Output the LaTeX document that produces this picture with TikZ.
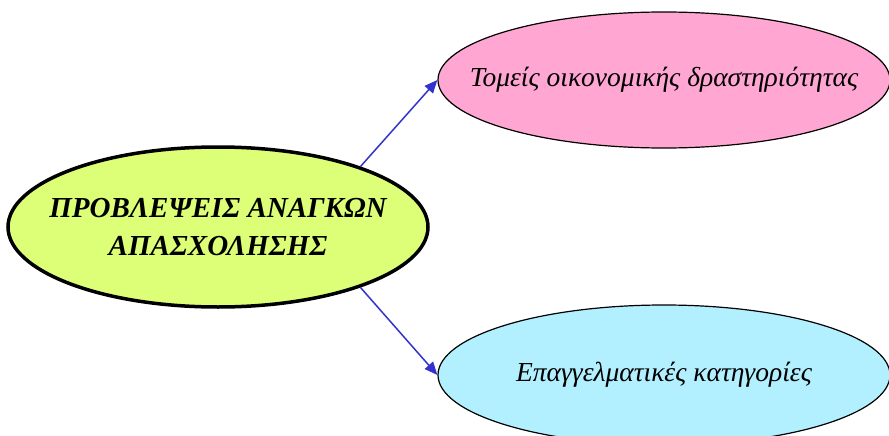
\documentclass[tikz,border=0pt]{standalone}
\usepackage{fontspec}
\setmainfont{Liberation Serif}
\usetikzlibrary{shapes.geometric, positioning, arrows.meta}
\definecolor{limefill}{RGB}{221,255,119}
\definecolor{pinkfill}{RGB}{255,166,210}
\definecolor{skyfill}{RGB}{179,240,255}
\definecolor{arrowblue}{RGB}{51,51,204}

\begin{document}
\begin{tikzpicture}[
    x=1pt, y=1pt,
    mainidea/.style={ellipse, minimum width=420pt, minimum height=160pt, inner xsep=-60pt, inner ysep=0pt, text centered, align=center, draw=black, line width=3.5pt, fill=limefill, font=\bfseries\itshape\fontsize{29}{38}\selectfont},
    sector/.style={ellipse, minimum width=452pt, minimum height=136pt, inner xsep=-60pt, inner ysep=0pt, text centered, draw=black, line width=1.2pt, fill=pinkfill, font=\itshape\fontsize{27.5}{30}\selectfont},
    category/.style={ellipse, minimum width=452pt, minimum height=140pt, inner xsep=-60pt, inner ysep=0pt, text centered, draw=black, line width=1.2pt, fill=skyfill, font=\itshape\fontsize{27.5}{30}\selectfont},
    arrow/.style={line width=1.5pt, draw=arrowblue, -{Triangle[length=13pt, width=11pt, fill=arrowblue]}},
]
\useasboundingbox (0,0) rectangle (889,-436);

% Central idea
\node[mainidea] (needs) at (218,-227) {ΠΡΟΒΛΕΨΕΙΣ ΑΝΑΓΚΩΝ\\ΑΠΑΣΧΟΛΗΣΗΣ};

% Upper branch
\node[sector] (sectors) at (664,-80) {Τομείς οικονομικής δραστηριότητας};

% Lower branch
\node[category] (jobs) at (664,-375) {Επαγγελματικές κατηγορίες};

% Draw the arrows
\draw[arrow] (needs.23) -- (sectors.west);
\draw[arrow] (needs.-23) -- (jobs.west);

\end{tikzpicture}
\end{document}
